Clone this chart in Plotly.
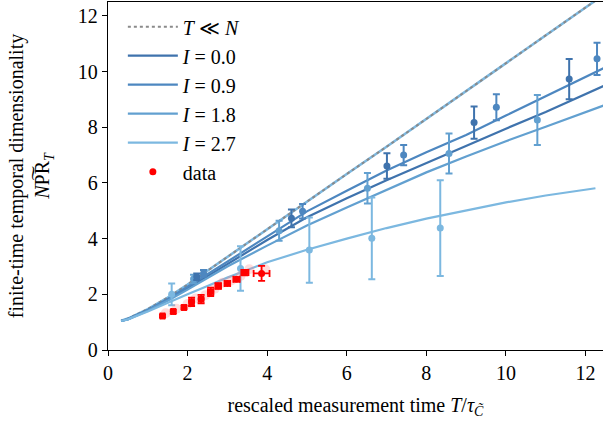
import plotly.graph_objects as go

# theory curves
x_th = [0.33, 0.5, 1, 1.5, 2, 2.5, 3, 4, 5, 6, 7, 8, 9, 10, 11, 12, 12.45]
y_TllN = [1.05, 1.13, 1.47, 1.88, 2.35, 2.85, 3.35, 4.35, 5.33, 6.32, 7.3, 8.3, 9.3, 10.3, 11.3, 12.32, 12.75]
y_I09 = [1.04, 1.11, 1.44, 1.83, 2.27, 2.72, 3.2, 4.1, 4.98, 5.72, 6.45, 7.1, 7.72, 8.42, 9.12, 9.8, 10.12]
y_I00 = [1.04, 1.11, 1.43, 1.8, 2.22, 2.65, 3.1, 3.95, 4.77, 5.45, 6.1, 6.72, 7.33, 7.95, 8.55, 9.18, 9.48]
y_I18 = [1.04, 1.1, 1.41, 1.77, 2.17, 2.58, 3.0, 3.75, 4.47, 5.12, 5.75, 6.38, 6.95, 7.5, 8.02, 8.55, 8.78]
x_th27 = [0.33, 0.5, 1, 1.5, 2, 2.5, 3, 4, 5, 6, 7, 8, 9, 10, 11, 12, 12.25]
y_I27 = [1.04, 1.1, 1.38, 1.7, 2.0, 2.3, 2.6, 3.15, 3.6, 4.0, 4.38, 4.72, 5.02, 5.3, 5.55, 5.77, 5.81]

# simulation points
x_s00 = [2.23, 4.61, 7.01, 9.2, 11.59]
y_s00 = [2.63, 4.73, 6.61, 8.17, 9.73]
e_s00 = [0.12, 0.32, 0.46, 0.58, 0.72]
x_s09 = [2.4, 4.89, 7.43, 9.76, 12.29]
y_s09 = [2.75, 4.98, 7.0, 8.72, 10.46]
e_s09 = [0.12, 0.26, 0.36, 0.47, 0.58]
x_s18 = [2.15, 4.3, 6.52, 8.57, 10.79]
y_s18 = [2.55, 4.28, 5.81, 7.06, 8.26]
e_s18 = [0.15, 0.36, 0.55, 0.72, 0.9]
x_s27 = [1.6, 3.33, 5.06, 6.63, 8.35]
y_s27 = [2.0, 2.93, 3.59, 4.01, 4.38]
e_s27 = [0.39, 0.8, 1.17, 1.47, 1.72]

# experimental data
x_dat = [1.37, 1.64, 1.91, 2.1, 2.34, 2.58, 2.77, 3.0, 3.23, 3.44, 3.86]
y_dat = [1.22, 1.38, 1.53, 1.73, 1.83, 2.09, 2.3, 2.39, 2.54, 2.78, 2.75]
ey_dat = [0.06, 0.07, 0.07, 0.15, 0.15, 0.15, 0.1, 0.08, 0.08, 0.1, 0.27]
ex_dat = [0.05, 0.05, 0.05, 0.06, 0.06, 0.07, 0.07, 0.07, 0.08, 0.09, 0.2]
x_pink = [1.45, 1.72, 2.0, 2.2, 2.45, 2.68, 2.88, 3.1, 3.33, 3.55, 3.95]
y_pink = [1.32, 1.48, 1.65, 1.85, 1.97, 2.2, 2.42, 2.5, 2.66, 2.9, 2.9]

C00 = "#3f73ad"
C09 = "#4d87c0"
C18 = "#62a0d0"
C27 = "#7cb8e0"

fig = go.Figure()

fig.add_trace(go.Scatter(x=x_th, y=y_TllN, mode="lines", line=dict(color=C27, width=2.5),
                         showlegend=False, hoverinfo="skip"))
fig.add_trace(go.Scatter(x=x_th, y=y_TllN, mode="lines", name="<i>T</i> ≪ <i>N</i>",
                         line=dict(color="#8a8a8a", width=2, dash="dot")))
for xs, ys, c, nm in [(x_th, y_I00, C00, "<i>I</i> = 0.0"),
                      (x_th, y_I09, C09, "<i>I</i> = 0.9"),
                      (x_th, y_I18, C18, "<i>I</i> = 1.8"),
                      (x_th27, y_I27, C27, "<i>I</i> = 2.7")]:
    fig.add_trace(go.Scatter(x=xs, y=ys, mode="lines", name=nm, line=dict(color=c, width=2.2)))

for xs, ys, es, c in [(x_s27, y_s27, e_s27, C27), (x_s18, y_s18, e_s18, C18),
                      (x_s00, y_s00, e_s00, C00), (x_s09, y_s09, e_s09, C09)]:
    fig.add_trace(go.Scatter(x=xs, y=ys, mode="markers", marker=dict(color=c, size=7),
                             error_y=dict(type="data", array=es, color=c, thickness=2, width=3.5),
                             showlegend=False))

fig.add_trace(go.Scatter(x=x_pink, y=y_pink, mode="markers",
                         marker=dict(color="rgba(255,140,140,0.3)", size=10),
                         showlegend=False, hoverinfo="skip"))
fig.add_trace(go.Scatter(x=x_dat, y=y_dat, mode="markers", name="data",
                         marker=dict(color="red", size=7),
                         error_y=dict(type="data", array=ey_dat, color="red", thickness=1.8, width=3.5),
                         error_x=dict(type="data", array=ex_dat, color="red", thickness=1.8, width=3.5)))

fnt = "Liberation Serif"
fig.update_layout(
    width=603, height=428,
    margin=dict(l=108, r=0, t=2, b=78),
    plot_bgcolor="white", paper_bgcolor="white",
    font=dict(family=fnt, size=20, color="black"),
    showlegend=True,
    legend=dict(x=0.03, y=0.985, xanchor="left", yanchor="top",
                bgcolor="rgba(255,255,255,0)", borderwidth=0,
                font=dict(family=fnt, size=20), itemwidth=50),
    xaxis=dict(range=[0, 12.44], tickvals=[0, 2, 4, 6, 8, 10, 12], automargin=False,
               showline=True, linecolor="black", linewidth=1.3, mirror=True,
               ticks="outside", ticklen=5, tickcolor="black", showgrid=False, zeroline=False,
               tickfont=dict(size=20),
               title=dict(text="rescaled measurement time <i>T</i>/<i>τ</i><sub><i>C\u0303</i></sub>",
                          font=dict(size=20), standoff=14)),
    yaxis=dict(range=[0, 12.5], tickvals=[0, 2, 4, 6, 8, 10, 12], automargin=False,
               showline=True, linecolor="black", linewidth=1.3, mirror=False,
               ticks="outside", ticklen=5, tickcolor="black", showgrid=False, zeroline=False,
               tickfont=dict(size=20),
               title=dict(text="finite-time temporal dimensionality<br><i>N</i>P\u0360R<sub><i>T</i></sub>",
                          font=dict(size=20), standoff=22)),
)

fig.write_html("out.html", config={"displayModeBar": False},
               post_script="document.body.style.margin='0';")
